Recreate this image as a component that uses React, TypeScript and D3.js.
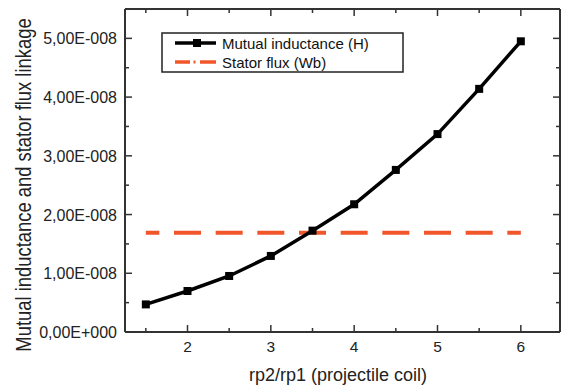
import React from 'react';
import * as d3 from 'd3';

// ratio values (x) and the two series
const ratios = [1.5, 2, 2.5, 3, 3.5, 4, 4.5, 5, 5.5, 6];
const mutualInductance = [4.7e-9, 6.98e-9, 9.54e-9, 1.295e-8, 1.726e-8, 2.175e-8, 2.76e-8, 3.37e-8, 4.14e-8, 4.95e-8];
const statorFlux = [1.69e-8, 1.69e-8, 1.69e-8, 1.69e-8, 1.69e-8, 1.69e-8, 1.69e-8, 1.69e-8, 1.69e-8, 1.69e-8];

const xTicks = [2, 3, 4, 5, 6];
const xMinorTicks = [1.5, 2.5, 3.5, 4.5, 5.5];
const yTicks = [0, 1e-8, 2e-8, 3e-8, 4e-8, 5e-8];
const yMinorTicks = [0.5e-8, 1.5e-8, 2.5e-8, 3.5e-8, 4.5e-8, 5.5e-8];

const legendLabels = ['Mutual inductance (H)', 'Stator flux (Wb)'];

const W = 561;
const H = 387;
const FONT = '"Liberation Sans", Arial, sans-serif';
const ORANGE = '#f0562a';
const AXIS = '#333';

// Origin-style scientific label: 5,00E-008
const sci = (v: number) => {
  if (v === 0) return '0,00E+000';
  const e = Math.floor(Math.log10(Math.abs(v)) + 1e-9);
  const m = v / Math.pow(10, e);
  const sign = e < 0 ? '-' : '+';
  return `${m.toFixed(2).replace('.', ',')}E${sign}${String(Math.abs(e)).padStart(3, '0')}`;
};

export default function App() {
  const left = 125, right = 560, top = 9, bottom = 332;

  const x = d3.scaleLinear().domain([1.25, 6.47]).range([left, right]);
  const y = d3.scaleLinear().domain([0, 5.5e-8]).range([bottom, top]);

  const line = d3.line<number>()
    .x((_, i) => x(ratios[i]))
    .y(d => y(d));

  const dashPeriod = x(2) - x(1.5);
  const dashLen = 27;

  return (
    <svg width={W} height={H} style={{ position: 'absolute', left: 0, top: 0, background: '#fff' }}
      fontFamily={FONT}>
      {/* frame */}
      <line x1={left} x2={right} y1={bottom} y2={bottom} stroke={AXIS} strokeWidth={2} />
      <line x1={left} x2={right} y1={top} y2={top} stroke={AXIS} strokeWidth={2} />
      <line x1={left} x2={left} y1={top} y2={bottom} stroke={AXIS} strokeWidth={2} />
      <line x1={right} x2={right} y1={top} y2={bottom} stroke={AXIS} strokeWidth={2} />

      {/* x ticks, inward on bottom and top */}
      {xTicks.map(t => (
        <g key={'xt' + t}>
          <line x1={x(t)} x2={x(t)} y1={bottom} y2={bottom - 7} stroke={AXIS} strokeWidth={1.5} />
          <line x1={x(t)} x2={x(t)} y1={top} y2={top + 7} stroke={AXIS} strokeWidth={1.5} />
          <text x={x(t)} y={bottom + 20} textAnchor="middle" fontSize={15.5} fill="#222">{t}</text>
        </g>
      ))}
      {xMinorTicks.map(t => (
        <g key={'xm' + t}>
          <line x1={x(t)} x2={x(t)} y1={bottom} y2={bottom - 4} stroke={AXIS} strokeWidth={1.5} />
          <line x1={x(t)} x2={x(t)} y1={top} y2={top + 4} stroke={AXIS} strokeWidth={1.5} />
        </g>
      ))}

      {/* y ticks, inward on left and right */}
      {yTicks.map(t => (
        <g key={'yt' + t}>
          <line x1={left} x2={left + 7} y1={y(t)} y2={y(t)} stroke={AXIS} strokeWidth={1.5} />
          <line x1={right} x2={right - 7} y1={y(t)} y2={y(t)} stroke={AXIS} strokeWidth={1.5} />
          <text x={left - 8} y={y(t) + 6} textAnchor="end" fontSize={16} fill="#222">{sci(t)}</text>
        </g>
      ))}
      {yMinorTicks.map(t => (
        <g key={'ym' + t}>
          <line x1={left} x2={left + 4} y1={y(t)} y2={y(t)} stroke={AXIS} strokeWidth={1.5} />
          <line x1={right} x2={right - 4} y1={y(t)} y2={y(t)} stroke={AXIS} strokeWidth={1.5} />
        </g>
      ))}

      {/* axis titles */}
      <text x={338} y={381} textAnchor="middle" fontSize={18} fill="#222">rp2/rp1 (projectile coil)</text>
      <text transform={`translate(30.5,185) rotate(-90) scale(1,1.2)`} textAnchor="middle" fontSize={18.4} fill="#222">
        Mutual inductance and stator flux linkage
      </text>

      {/* stator flux (dashed) */}
      <path d={line(statorFlux) || ''} fill="none" stroke={ORANGE} strokeWidth={4}
        strokeDasharray={`${dashLen} ${dashPeriod - dashLen}`} strokeDashoffset={dashLen / 2} />

      {/* mutual inductance */}
      <path d={line(mutualInductance) || ''} fill="none" stroke="#000" strokeWidth={3.5} />
      {mutualInductance.map((v, i) => (
        <rect key={'m' + i} x={x(ratios[i]) - 4} y={y(v) - 4} width={8} height={8} fill="#000" />
      ))}

      {/* legend */}
      <rect x={162} y={33} width={241} height={39} fill="#fff" stroke="#222" strokeWidth={1.5} />
      <line x1={175} x2={216} y1={43} y2={43} stroke="#000" strokeWidth={3.5} />
      <rect x={193} y={39} width={8} height={8} fill="#000" />
      <text x={222} y={48.5} fontSize={15} fill="#111">{legendLabels[0]}</text>
      <line x1={175} x2={190} y1={62} y2={62} stroke={ORANGE} strokeWidth={3.5} />
      <line x1={193.5} x2={195.5} y1={62} y2={62} stroke={ORANGE} strokeWidth={3} />
      <line x1={200} x2={216} y1={62} y2={62} stroke={ORANGE} strokeWidth={3.5} />
      <text x={222} y={67.5} fontSize={15} fill="#111">{legendLabels[1]}</text>
    </svg>
  );
}
